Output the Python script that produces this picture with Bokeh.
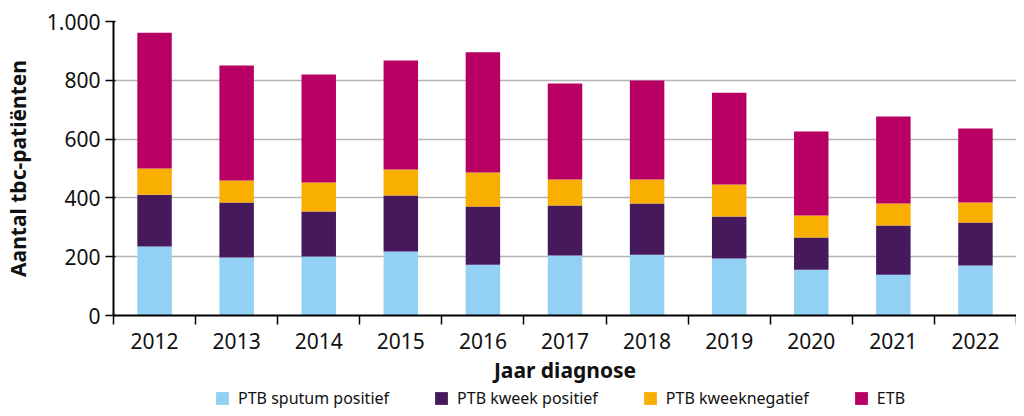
from bokeh.plotting import figure
from bokeh.models import (Range1d, FixedTicker, Legend, LegendItem)
from bokeh.layouts import column
from bokeh.embed import file_html
from bokeh.resources import INLINE

years = ["2012", "2013", "2014", "2015", "2016", "2017", "2018", "2019", "2020", "2021", "2022"]
series = ["PTB sputum positief", "PTB kweek positief", "PTB kweeknegatief", "ETB"]
ptb_sputum = [235, 197, 201, 218, 173, 204, 207, 194, 156, 139, 170]
ptb_kweek = [176, 187, 153, 190, 198, 170, 174, 143, 109, 167, 146]
ptb_kweekneg = [89, 75, 98, 89, 115, 89, 82, 109, 75, 75, 68]
etb = [462, 391, 368, 370, 409, 326, 336, 312, 286, 296, 252]
colors = ["#93D1F4", "#45195C", "#F9AF00", "#B80064"]
y_ticks = [0, 200, 400, 600, 800, 1000]
y_labels = ["0", "200", "400", "600", "800", "1.000"]

FONT = "Noto Sans"

x_pos = [i + 0.5 for i in range(len(years))]
data = dict(x=x_pos, s0=ptb_sputum, s1=ptb_kweek, s2=ptb_kweekneg, s3=etb)

p = figure(width=1016, height=386, output_backend="svg", toolbar_location=None,
           x_range=Range1d(0, len(years)), y_range=Range1d(0, 1000),
           min_border_left=112, min_border_right=0, min_border_top=21, min_border_bottom=70)
p.outline_line_color = None
p.background_fill_color = "white"

rs = p.vbar_stack(["s0", "s1", "s2", "s3"], x="x", width=0.42, color=colors,
                  line_color=None, source=data)

# y axis
ya = p.yaxis[0]
ya.ticker = FixedTicker(ticks=y_ticks)
ya.major_label_overrides = {t: l for t, l in zip(y_ticks, y_labels)}
ya.axis_line_width = 2
ya.axis_line_color = "black"
ya.major_tick_line_color = "black"
ya.major_tick_line_width = 1.5
ya.major_tick_in = 2
ya.major_tick_out = 8
ya.minor_tick_line_color = None
ya.major_label_text_font = FONT
ya.major_label_text_font_size = "21px"
ya.major_label_text_color = "#111111"
ya.major_label_standoff = 5
ya.axis_label = "Aantal tbc-patiënten"
ya.axis_label_text_font = FONT
ya.axis_label_text_font_size = "21px"
ya.axis_label_text_font_style = "bold"
ya.axis_label_text_color = "#111111"
ya.axis_label_standoff = 12

# x axis: labels at centers, ticks at category boundaries
xa = p.xaxis[0]
xa.ticker = FixedTicker(ticks=x_pos, minor_ticks=list(range(len(years) + 1)))
xa.major_label_overrides = {x: y for x, y in zip(x_pos, years)}
xa.axis_line_width = 2
xa.axis_line_color = "black"
xa.major_tick_line_color = None
xa.major_tick_out = 0
xa.major_tick_in = 0
xa.minor_tick_line_color = "black"
xa.minor_tick_line_width = 1.5
xa.minor_tick_in = 0
xa.minor_tick_out = 9
xa.major_label_text_font = FONT
xa.major_label_text_font_size = "21px"
xa.major_label_text_color = "#111111"
xa.major_label_standoff = 8
xa.axis_label = "Jaar diagnose"
xa.axis_label_text_font = FONT
xa.axis_label_text_font_size = "21px"
xa.axis_label_text_font_style = "bold"
xa.axis_label_text_color = "#111111"
xa.axis_label_standoff = 4

p.xgrid.grid_line_color = None
p.ygrid.ticker = FixedTicker(ticks=y_ticks)
p.ygrid.grid_line_color = "#B4B4B4"
p.ygrid.grid_line_width = 1.5

# legend strip (separate figure so the legend is not clipped)
pl = figure(width=1016, height=24, output_backend="svg", toolbar_location=None,
            x_axis_type=None, y_axis_type=None,
            x_range=Range1d(0, len(years)), y_range=Range1d(0, 1000),
            min_border=0, min_border_left=0, min_border_right=0,
            min_border_top=0, min_border_bottom=0)
pl.outline_line_color = None
pl.grid.grid_line_color = None
rs_leg = pl.vbar_stack(["s0", "s1", "s2", "s3"], x="x", width=0.42, color=colors,
                       line_color=None, source=data, visible=False)

legend = Legend(items=[LegendItem(label=s, renderers=[r]) for s, r in zip(series, rs_leg)],
                orientation="horizontal", location=(101, 1),
                glyph_width=16, glyph_height=16, label_standoff=8,
                label_text_font=FONT, label_text_font_size="16px",
                label_text_color="#111111", spacing=44, padding=0, margin=0,
                border_line_color=None, background_fill_alpha=0)
pl.add_layout(legend, "center")

layout = column(p, pl, spacing=0)
open("out.html", "w").write(file_html(layout, INLINE))
